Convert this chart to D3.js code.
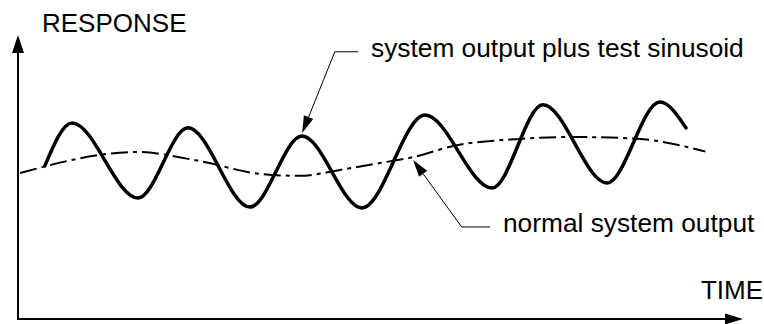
<!DOCTYPE html>
<html>
<head>
<meta charset="utf-8">
<script src="https://cdn.jsdelivr.net/npm/d3@7"></script>
<style>
  body { margin: 0; background: #fff; }
  text { font-family: "Liberation Sans", Arial, sans-serif; fill: #000; }
</style>
</head>
<body>
<div id="chart"></div>
<script>
// time / response samples (arbitrary units 0-100)
const normalTime = [0.3, 16.4, 25.1, 33.4, 38.9, 44.4, 49.9, 54.5, 60.0, 69.2, 76.1, 84.8, 94.8];
const normalResp = [51.4, 58.8, 55.6, 51.1, 50.4, 52.5, 54.9, 57.0, 60.9, 63.4, 64.1, 63.6, 59.0];

const testTime = [3.7, 7.45, 16.55, 23.45, 32.0, 39.17, 47.45, 56.14, 65.38, 72.41, 81.24, 88.55, 92.14];
const testResp = [53.9, 69.0, 42.6, 67.3, 39.4, 64.4, 39.1, 71.8, 46.1, 75.4, 47.9, 76.4, 67.3];

const axisLabels = { x: 'TIME', y: 'RESPONSE' };
const notes = [
  { text: 'system output plus test sinusoid', tip: [39.2, 65.5], knee: [43.7, 94.1], end: [46.9, 94.1] },
  { text: 'normal system output', tip: [54.5, 56.0], knee: [61.2, 32.4], end: [65.1, 32.4] }
];

const width = 764;
const height = 324;

const svg = d3.select('#chart')
  .append('svg')
  .attr('width', width)
  .attr('height', height);

const xScale = d3.scaleLinear().domain([0, 100]).range([18, 743]);
const yScale = d3.scaleLinear().domain([0, 100]).range([319, 35]);

// axes (no ticks, just arrows)
const [x0, x1] = xScale.range();
const [y0, y1] = yScale.range();

svg.append('line')
  .attr('x1', x0 - 1).attr('y1', y0)
  .attr('x2', x1 - 10).attr('y2', y0)
  .attr('stroke', '#000').attr('stroke-width', 2);
svg.append('path')
  .attr('d', `M${x1},${y0} L${x1 - 18},${y0 - 5.5} L${x1 - 18},${y0 + 5.5} Z`)
  .attr('fill', '#000');

svg.append('line')
  .attr('x1', x0).attr('y1', y0 + 1)
  .attr('x2', x0).attr('y2', y1 + 10)
  .attr('stroke', '#000').attr('stroke-width', 2);
svg.append('path')
  .attr('d', `M${x0},${y1} L${x0 - 6},${y1 + 18} L${x0 + 6},${y1 + 18} Z`)
  .attr('fill', '#000');

svg.append('text')
  .attr('x', 42).attr('y', 32)
  .attr('font-size', '26px')
  .text(axisLabels.y);
svg.append('text')
  .attr('x', 763).attr('y', 299)
  .attr('text-anchor', 'end')
  .attr('font-size', '26px')
  .text(axisLabels.x);

const line = d3.line()
  .x(d => xScale(d[0]))
  .y(d => yScale(d[1]))
  .curve(d3.curveMonotoneX);

// normal output, dash-dot
svg.append('path')
  .datum(d3.zip(normalTime, normalResp))
  .attr('d', line)
  .attr('fill', 'none')
  .attr('stroke', '#000')
  .attr('stroke-width', 2)
  .attr('stroke-dasharray', '17,5,4,5');

// output with test sinusoid
svg.append('path')
  .datum(d3.zip(testTime, testResp))
  .attr('d', line)
  .attr('fill', 'none')
  .attr('stroke', '#000')
  .attr('stroke-width', 3.5)
  .attr('stroke-linecap', 'round');

// callouts
notes.forEach(n => {
  const tx = xScale(n.tip[0]), ty = yScale(n.tip[1]);
  const kx = xScale(n.knee[0]), ky = yScale(n.knee[1]);
  const ex = xScale(n.end[0]), ey = yScale(n.end[1]);
  const ang = Math.atan2(ky - ty, kx - tx);
  const len = 17, hw = 5;
  const bx = tx + len * Math.cos(ang), by = ty + len * Math.sin(ang);

  svg.append('path')
    .attr('d', `M${bx},${by} L${kx},${ky} L${ex},${ey}`)
    .attr('fill', 'none')
    .attr('stroke', '#000')
    .attr('stroke-width', 1);
  svg.append('path')
    .attr('d', `M${tx},${ty} L${bx - hw * Math.sin(ang)},${by + hw * Math.cos(ang)} L${bx + hw * Math.sin(ang)},${by - hw * Math.cos(ang)} Z`)
    .attr('fill', '#000');
  svg.append('text')
    .attr('x', ex + 13)
    .attr('y', ey + 5)
    .attr('font-size', '26.3px')
    .text(n.text);
});
</script>
</body>
</html>
